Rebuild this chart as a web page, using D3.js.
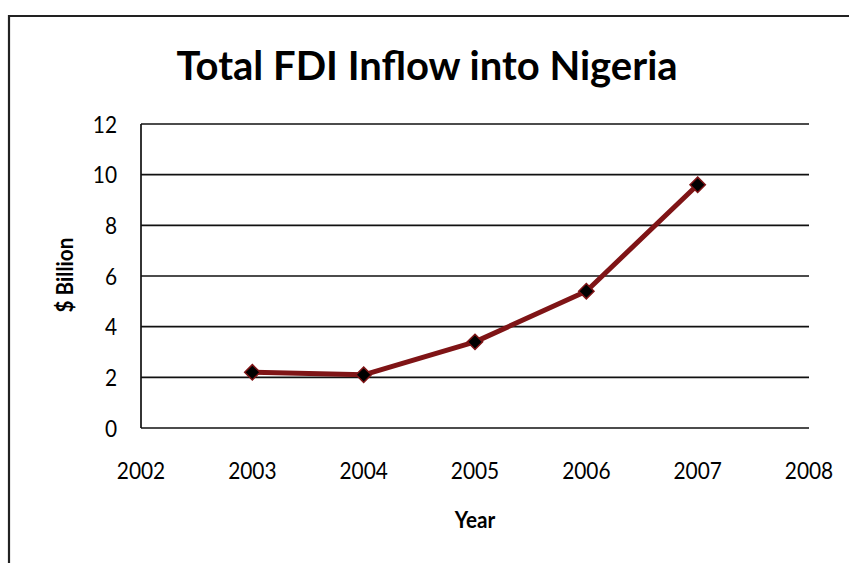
<!DOCTYPE html>
<html>
<head>
<meta charset="utf-8">
<script src="https://cdn.jsdelivr.net/npm/d3@7"></script>
<style>
  html, body { margin: 0; padding: 0; background: #fff; }
  svg { display: block; }
</style>
</head>
<body>
<svg id="chart" width="849" height="563"></svg>
<script>
const years = [2003, 2004, 2005, 2006, 2007];
const fdiBillion = [2.2, 2.1, 3.4, 5.4, 9.6];
const xTicks = [2002, 2003, 2004, 2005, 2006, 2007, 2008];
const yTicks = [0, 2, 4, 6, 8, 10, 12];
const titleText = "Total FDI Inflow into Nigeria";
const xTitle = "Year";
const yTitle = "$ Billion";

const svg = d3.select("#chart");
const font = "Lato, 'Open Sans', sans-serif";

// outer frame (top and left visible, right/bottom cut off)
svg.append("path")
  .attr("d", "M9,563 L9,16 L849,16")
  .attr("fill", "none").attr("stroke", "#222").attr("stroke-width", 2.2);

const x = d3.scaleLinear().domain([2002, 2008]).range([141, 809]);
const y = d3.scaleLinear().domain([0, 12]).range([428, 124]);

// gridlines
svg.append("g").selectAll("line").data(yTicks).join("line")
  .attr("x1", x(2002)).attr("x2", x(2008))
  .attr("y1", d => y(d)).attr("y2", d => y(d))
  .attr("stroke", "#111").attr("stroke-width", 1.7);

// y axis line
svg.append("line")
  .attr("x1", x(2002)).attr("x2", x(2002))
  .attr("y1", y(0)).attr("y2", y(12))
  .attr("stroke", "#111").attr("stroke-width", 1.7);

// y tick labels
svg.append("g").selectAll("text").data(yTicks).join("text")
  .attr("transform", d => `translate(117,${y(d)}) scale(0.87,1)`)
  .attr("dy", "0.36em")
  .attr("text-anchor", "end")
  .attr("font-family", font).attr("font-size", 24)
  .attr("fill", "#000")
  .text(d => d);

// x tick labels
svg.append("g").selectAll("text").data(xTicks).join("text")
  .attr("transform", d => `translate(${x(d)},470) scale(0.87,1)`)
  .attr("dy", "0.36em")
  .attr("text-anchor", "middle")
  .attr("font-family", font).attr("font-size", 24)
  .attr("fill", "#000")
  .text(d => d);

// title
svg.append("text")
  .attr("x", 427).attr("y", 80)
  .attr("text-anchor", "middle")
  .attr("font-family", font).attr("font-weight", "bold").attr("font-size", 40)
  .attr("fill", "#000")
  .text(titleText);

// axis titles
svg.append("text")
  .attr("transform", "translate(475,520) scale(0.9,1)")
  .attr("dy", "0.36em")
  .attr("text-anchor", "middle")
  .attr("font-family", font).attr("font-weight", "bold").attr("font-size", 23)
  .attr("fill", "#000")
  .text(xTitle);

svg.append("text")
  .attr("transform", `translate(65,275) rotate(-90) scale(0.9,1)`)
  .attr("dy", "0.36em")
  .attr("text-anchor", "middle")
  .attr("font-family", font).attr("font-weight", "bold").attr("font-size", 23)
  .attr("fill", "#000")
  .text(yTitle);

// line
const pts = years.map((yr, i) => [yr, fdiBillion[i]]);
svg.append("path")
  .datum(pts)
  .attr("d", d3.line().x(d => x(d[0])).y(d => y(d[1])))
  .attr("fill", "none")
  .attr("stroke", "#7f1416")
  .attr("stroke-width", 5)
  .attr("stroke-linejoin", "round");

// markers
svg.append("g").selectAll("path").data(pts).join("path")
  .attr("transform", d => `translate(${x(d[0])},${y(d[1])})`)
  .attr("d", d3.symbol().type(d3.symbolDiamond2).size(150))
  .attr("fill", "#000")
  .attr("stroke", "#7f1416")
  .attr("stroke-width", 1.5);
</script>
</body>
</html>
